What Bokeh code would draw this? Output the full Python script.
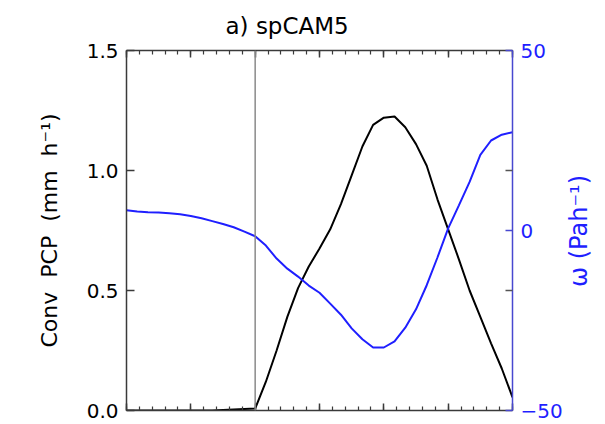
import math
from bokeh.plotting import figure
from bokeh.models import Range1d, LinearAxis, FixedTicker, Span
from bokeh.embed import file_html
from bokeh.resources import INLINE

# ---- data ----
hours = list(range(-12, 25))
conv_pcp = [0, 0, 0, 0, 0, 0, 0, 0, 0, 0.002, 0.004, 0.006, 0.008,
            0.12, 0.25, 0.39, 0.51, 0.60, 0.675, 0.755, 0.86, 0.98, 1.10, 1.19, 1.22,
            1.225, 1.18, 1.11, 1.02, 0.88, 0.755, 0.63, 0.50, 0.39, 0.28, 0.175, 0.055]
omega = [5.6, 5.3, 5.1, 5.0, 4.8, 4.5, 4.0, 3.4, 2.6, 1.8, 0.9, -0.3, -1.6,
         -4.2, -7.8, -10.6, -12.8, -15.3, -17.3, -20.3, -23.4, -27.2, -30.2, -32.5, -32.5,
         -30.8, -27.0, -21.9, -15.2, -7.5, 0.6, 7.0, 13.5, 21.0, 25.0, 26.6, 27.3]
pcp_ticks = [0.0, 0.5, 1.0, 1.5]
pcp_labels = ["0.0", "0.5", "1.0", "1.5"]
omega_ticks = [-50, 0, 50]
omega_labels = ["\u221250", "0", "50"]
x_major = [-12, -6, 0, 6, 12, 18, 24]
onset_hour = 0

FONT = "DejaVu Sans"
BLUE = "#1f1fff"
AXIS_GRAY = "#3a3a3a"

x_lo, x_hi = -12, 24
p_lo, p_hi = 0.0, 1.5
w_lo, w_hi = -50, 50
FRAME_W, FRAME_H = 386, 360

p = figure(frame_width=FRAME_W, frame_height=FRAME_H,
           x_range=Range1d(x_lo, x_hi), y_range=Range1d(p_lo, p_hi),
           output_backend="svg", toolbar_location=None,
           min_border_left=126, min_border_top=50, min_border_right=85,
           min_border_bottom=14, background_fill_color="white",
           border_fill_color="white")
p.extra_y_ranges = {"omega": Range1d(w_lo, w_hi)}
p.grid.visible = False
p.outline_line_color = None

p.title.text = "a) spCAM5"
p.title.text_font = FONT
p.title.text_font_size = "23px"
p.title.text_font_style = "normal"
p.title.align = "left"
p.title.offset = 99
p.title.standoff = 20
p.title.vertical_align = "top"
p.title.text_color = "black"

x_minor = [x_lo + (x_hi - x_lo) * i / 30 for i in range(31)]


def style_x(ax):
    ax.ticker = FixedTicker(ticks=x_major, minor_ticks=x_minor)
    ax.major_label_overrides = {t: "" for t in x_major}
    ax.major_label_standoff = 0
    ax.major_tick_in = 7
    ax.major_tick_out = 0
    ax.minor_tick_in = 4
    ax.minor_tick_out = 0
    ax.axis_line_color = AXIS_GRAY
    ax.axis_line_width = 1.5
    ax.major_tick_line_color = AXIS_GRAY
    ax.minor_tick_line_color = AXIS_GRAY
    ax.major_tick_line_width = 1.5
    ax.minor_tick_line_width = 1.2


style_x(p.xaxis[0])
top = LinearAxis()
style_x(top)
p.add_layout(top, "above")

ly = p.yaxis[0]
ly.ticker = FixedTicker(ticks=pcp_ticks, minor_ticks=[])
ly.major_label_overrides = {t: s for t, s in zip(pcp_ticks, pcp_labels)}
ly.major_label_text_font = FONT
ly.major_label_text_font_size = "20px"
ly.major_label_text_color = "black"
ly.major_label_standoff = 8
ly.major_tick_in = 8
ly.major_tick_out = 0
ly.minor_tick_line_color = None
ly.axis_line_color = AXIS_GRAY
ly.axis_line_width = 1.5
ly.major_tick_line_color = AXIS_GRAY
ly.major_tick_line_width = 1.5
ly.axis_label = "Conv\u00a0 PCP\u00a0 (mm\u00a0 h\u207b\u00b9)"
ly.axis_label_text_font = FONT
ly.axis_label_text_font_size = "22px"
ly.axis_label_text_font_style = "normal"
ly.axis_label_text_color = "black"
ly.axis_label_standoff = 22

# mirrored PCP ticks on the right-hand side, expressed in omega units
mirror = [w_lo + (t - p_lo) / (p_hi - p_lo) * (w_hi - w_lo) for t in pcp_ticks[1:-1]]

ry = LinearAxis(y_range_name="omega")
ry.ticker = FixedTicker(ticks=omega_ticks, minor_ticks=mirror)
ry.major_label_overrides = {t: s for t, s in zip(omega_ticks, omega_labels)}
ry.major_label_text_font = FONT
ry.major_label_text_font_size = "20px"
ry.major_label_text_color = BLUE
ry.major_label_standoff = 8
ry.major_tick_in = 7
ry.major_tick_out = 0
ry.minor_tick_in = 7
ry.minor_tick_out = 0
ry.axis_line_color = "#4848d0"
ry.axis_line_width = 1.5
ry.major_tick_line_color = "#4848d0"
ry.major_tick_line_width = 1.5
ry.minor_tick_line_color = "#555555"
ry.minor_tick_line_width = 1.5
p.add_layout(ry, "right")

# right-hand axis title (reads bottom-to-top); drawn as the single label of a
# bare companion axis so that it can sit centred beside the frame
OMEGA_TITLE = "\u03c9 (Pah\u207b\u00b9)"
title_len_px = 113
anchor = (w_lo + w_hi) / 2 - (title_len_px / 2) * (w_hi - w_lo) / FRAME_H
anchor = round(anchor, 2)
rt = LinearAxis(y_range_name="omega")
rt.ticker = FixedTicker(ticks=[anchor], minor_ticks=[])
rt.major_label_overrides = {anchor: OMEGA_TITLE}
rt.major_label_orientation = math.pi / 2
rt.major_label_text_font = FONT
rt.major_label_text_font_size = "24px"
rt.major_label_text_color = BLUE
rt.major_label_standoff = 14
rt.major_tick_in = 0
rt.major_tick_out = 0
rt.axis_line_color = None
rt.major_tick_line_color = None
rt.minor_tick_line_color = None
p.add_layout(rt, "right")

p.add_layout(Span(location=onset_hour, dimension="height",
                  line_color="#8a8a8a", line_width=1.5))

p.line(hours, conv_pcp, line_color="black", line_width=2)
p.line(hours, omega, y_range_name="omega", line_color=BLUE, line_width=2)

open("out.html", "w").write(file_html(p, INLINE))
